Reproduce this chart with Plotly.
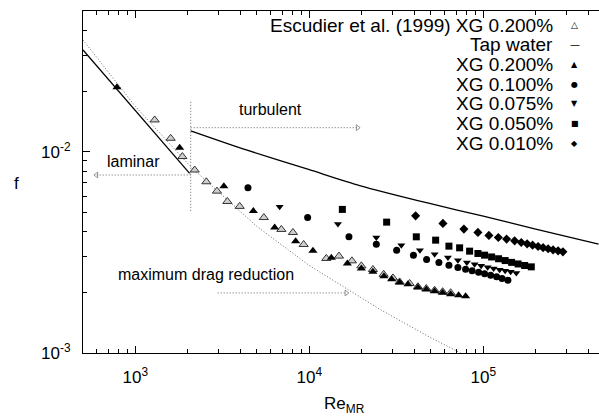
import math
import plotly.graph_objects as go

# ---------------- data ----------------
series_names = ["Escudier et al. (1999) XG 0.200%", "Tap water", "XG 0.200%",
                "XG 0.100%", "XG 0.075%", "XG 0.050%", "XG 0.010%"]

escudier_re = [1291, 1595, 1863, 2192, 2559, 2944, 3379, 3976, 5476, 6904, 8048, 9273,
               12520, 14800, 17570, 19910, 23200, 26730, 30240, 33040, 37700, 42090,
               47030, 52500, 58370, 64880]
escudier_f = [0.01438, 0.01166, 0.00946, 0.00811, 0.00709, 0.00637, 0.00566, 0.00535,
              0.00471, 0.00411, 0.00397, 0.00346, 0.00295, 0.00303, 0.00287, 0.00271,
              0.00260, 0.00246, 0.00236, 0.002255, 0.002215, 0.002135, 0.00209,
              0.00205, 0.002016, 0.001993]

xg200_re = [784, 1797, 3226, 4766, 6318, 8342, 10490, 13380, 16540, 19910, 23200,
            26840, 29720, 33040, 36870, 42090, 47030, 52500, 58370, 64880, 72100, 79110]
xg200_f = [0.0209, 0.01047, 0.00673, 0.00507, 0.004205, 0.003595, 0.003217, 0.00297,
           0.002785, 0.00263, 0.00253, 0.002406, 0.002325, 0.00224, 0.002197, 0.002115,
           0.002067, 0.002028, 0.001993, 0.001959, 0.001937, 0.001915]

xg100_re = [4438, 9777, 16890, 24270, 31760, 39660, 47220, 55560, 63440, 71450, 79110,
            86220, 93970, 101700, 110200, 119300, 128200, 138500]
xg100_f = [0.006622, 0.00471, 0.003777, 0.003474, 0.003243, 0.003063, 0.002915,
           0.002817, 0.00273, 0.00266, 0.002609, 0.002564, 0.00252, 0.002477,
           0.002435, 0.002393, 0.002345, 0.0023]

xg075_re = [6750, 14600, 24270, 33790, 43220, 52500, 62610, 71450, 80460, 89130, 97130,
            105900, 114600, 124100, 133500, 143600, 154800]
xg075_f = [0.005325, 0.004368, 0.00375, 0.003434, 0.003243, 0.003097, 0.002983,
           0.002892, 0.002817, 0.002762, 0.002715, 0.002669, 0.00263, 0.002594,
           0.002559, 0.00253, 0.0025]

xg050_re = [15480, 27820, 41200, 53210, 63440, 73080, 83420, 93110, 101700, 111600,
            122400, 133500, 145400, 158500, 172800, 188700]
xg050_f = [0.005168, 0.004468, 0.003777, 0.003636, 0.003395, 0.00333, 0.003206,
           0.003122, 0.003063, 0.003, 0.002939, 0.002879, 0.00282, 0.002769, 0.00272,
           0.002679]

xg010_re = [40820, 58600, 77350, 93110, 107700, 122000, 136100, 151300, 165300, 178600,
            192000, 206500, 220700, 235800, 251800, 269100, 286800]
xg010_f = [0.0048, 0.004404, 0.004125, 0.003972, 0.003838, 0.00375, 0.003679, 0.003607,
           0.003542, 0.003485, 0.003434, 0.003383, 0.003337, 0.003295, 0.003253,
           0.003217, 0.00318]

# Tap water: laminar branch and turbulent branch
laminar_re = [500, 1000, 2050]
laminar_f = [0.032, 0.016, 0.0078]
turb_re = [2080, 4345, 10000, 19450, 49140, 100000, 200000, 460000]
turb_f = [0.0127, 0.0102, 0.00814, 0.00679, 0.00553, 0.00478, 0.00413, 0.00347]

# maximum drag reduction asymptote (dotted)
mdr_re = [500, 1000, 2100, 5000, 10000, 25350, 50000, 74000]
mdr_f = [0.0359, 0.0168, 0.00835, 0.00425, 0.00272, 0.00165, 0.00119, 0.001]

# regime markers
transition_re = 2080
transition_f = [0.0177, 0.0050]
turb_arrow_re = [2080, 18950]
turb_arrow_f = 0.01316
lam_arrow_re = [2080, 597]
lam_arrow_f = 0.00766
mdr_arrow_re = [2972, 16320]
mdr_arrow_f = 0.001988

labels = ["turbulent", "laminar", "maximum drag reduction"]
label_re = [5992, 978, 2535]
label_f = [0.01612, 0.00889, 0.00246]

x_tick_vals = [1e3, 1e4, 1e5]
x_tick_text = ["10<sup>3</sup>", "10<sup>4</sup>", "10<sup>5</sup>"]
y_tick_vals = [1e-3, 1e-2]
y_tick_text = ["10<sup>-3</sup>", "10<sup>-2</sup>"]

# ---------------- figure ----------------
W, H = 599, 419
ML, MR, MT, MB = 83, 0, 11, 66
PW, PH = W - ML - MR, H - MT - MB
FONT = "Liberation Sans, Arial, sans-serif"
INK = "#000000"
DOT = "#666666"
DOT_DASH = "1px,2px"

fig = go.Figure()

def line_trace(x, y, color=INK, width=1.3, dash="solid"):
    return go.Scatter(x=x, y=y, mode="lines", showlegend=False, hoverinfo="skip",
                      line=dict(color=color, width=width, dash=dash))

fig.add_trace(line_trace(mdr_re, mdr_f, color=DOT, width=1, dash=DOT_DASH))
fig.add_trace(line_trace(laminar_re, laminar_f))
fig.add_trace(go.Scatter(x=turb_re, y=turb_f, mode="lines", showlegend=False,
                         line=dict(color=INK, width=1.3, shape="spline", smoothing=0.6)))

# regime markers
fig.add_trace(line_trace([transition_re, transition_re], transition_f, color=DOT, width=1, dash=DOT_DASH))
for xs, yv, sym in [(turb_arrow_re, turb_arrow_f, "triangle-right-open"),
                    (lam_arrow_re, lam_arrow_f, "triangle-left-open"),
                    (mdr_arrow_re, mdr_arrow_f, "triangle-right-open")]:
    fig.add_trace(go.Scatter(x=xs, y=[yv, yv], mode="lines+markers", showlegend=False,
                             line=dict(color=DOT, width=1, dash=DOT_DASH),
                             marker=dict(size=[0, 5], symbol=sym, color=DOT,
                                         line=dict(color=DOT, width=1))))

def marker_trace(x, y, name, symbol, size, color=INK, lcolor=INK, lwidth=0):
    return go.Scatter(x=x, y=y, mode="markers", name=name, showlegend=False,
                      marker=dict(symbol=symbol, size=size, color=color,
                                  line=dict(color=lcolor, width=lwidth)))

fig.add_trace(marker_trace(escudier_re, escudier_f, series_names[0], "triangle-up", 8,
                           color="#cfcfcf", lcolor="#333333", lwidth=1))
fig.add_trace(marker_trace(xg200_re, xg200_f, series_names[2], "triangle-up", 8))
fig.add_trace(marker_trace(xg100_re, xg100_f, series_names[3], "circle", 7))
fig.add_trace(marker_trace(xg075_re, xg075_f, series_names[4], "triangle-down", 7))
fig.add_trace(marker_trace(xg050_re, xg050_f, series_names[5], "square", 7))
fig.add_trace(marker_trace(xg010_re, xg010_f, series_names[6], "diamond", 7))

annotations = []
for t, xr, yf in zip(labels, label_re, label_f):
    annotations.append(dict(x=math.log10(xr), y=math.log10(yf), xref="x", yref="y",
                            text=t, showarrow=False, font=dict(family=FONT, size=16, color=INK)))

# key (text right-aligned, symbol to its right)
key_glyphs = ["\u25B3", "\u2014", "\u25B2", "\u25CF", "\u25BC", "\u25A0", "\u25C6"]
key_glyph_size = [9, 10, 8, 8, 8, 8, 8]
KEY_TEXT_RIGHT_PX, KEY_SYM_PX, KEY_TOP_PX, KEY_STEP_PX = 555, 574.5, 25, 19.7
for i, (nm, g) in enumerate(zip(series_names, key_glyphs)):
    ypx = KEY_TOP_PX + i * KEY_STEP_PX
    yp = (MT + PH - ypx) / PH
    annotations.append(dict(x=(KEY_TEXT_RIGHT_PX - ML) / PW, y=yp, xref="paper", yref="paper",
                            xanchor="right", yanchor="middle", text=nm, showarrow=False,
                            font=dict(family=FONT, size=19, color=INK)))
    annotations.append(dict(x=(KEY_SYM_PX - ML) / PW, y=yp, xref="paper", yref="paper",
                            xanchor="center", yanchor="middle", text=g, showarrow=False,
                            font=dict(family="DejaVu Sans", size=key_glyph_size[i], color=INK)))

# axis titles
annotations.append(dict(x=(344 - ML) / PW, y=(MT + PH - 405) / PH, xref="paper", yref="paper",
                        text="Re<sub>MR</sub>", showarrow=False, xanchor="center", yanchor="middle",
                        font=dict(family=FONT, size=17, color=INK)))
annotations.append(dict(x=(16 - ML) / PW, y=(MT + PH - 183) / PH, xref="paper", yref="paper",
                        text="f", showarrow=False, xanchor="center", yanchor="middle",
                        font=dict(family=FONT, size=17, color=INK)))

x_minor = [m * 10 ** e for e in (2, 3, 4, 5) for m in range(2, 10) if 500 <= m * 10 ** e <= 5e5]
y_minor = [m * 10 ** e for e in (-3, -2) for m in range(2, 10) if m * 10 ** e <= 0.05]

fig.update_layout(
    width=W, height=H, margin=dict(l=ML, r=MR, t=MT, b=MB, pad=0),
    paper_bgcolor="white", plot_bgcolor="white",
    font=dict(family=FONT, size=16, color=INK),
    showlegend=False, annotations=annotations,
    xaxis=dict(type="log", range=[math.log10(500), 5.665], showgrid=False, zeroline=False,
               showline=True, linecolor=INK, linewidth=1, mirror="ticks",
               ticks="inside", ticklen=7, tickcolor=INK, tickwidth=1,
               tickmode="array", tickvals=x_tick_vals, ticktext=x_tick_text,
               tickfont=dict(family=FONT, size=17, color=INK), ticklabelstandoff=9,
               minor=dict(ticks="inside", ticklen=4, tickcolor=INK, tickwidth=1,
                          tickmode="array", tickvals=x_minor, showgrid=False)),
    yaxis=dict(type="log", range=[-3, math.log10(0.05)], showgrid=False, zeroline=False,
               showline=True, linecolor=INK, linewidth=1, mirror=False,
               ticks="inside", ticklen=7, tickcolor=INK, tickwidth=1,
               tickmode="array", tickvals=y_tick_vals, ticktext=y_tick_text,
               tickfont=dict(family=FONT, size=17, color=INK), ticklabelstandoff=8,
               minor=dict(ticks="inside", ticklen=4, tickcolor=INK, tickwidth=1,
                          tickmode="array", tickvals=y_minor, showgrid=False)),
)

fig.write_html("out.html")
